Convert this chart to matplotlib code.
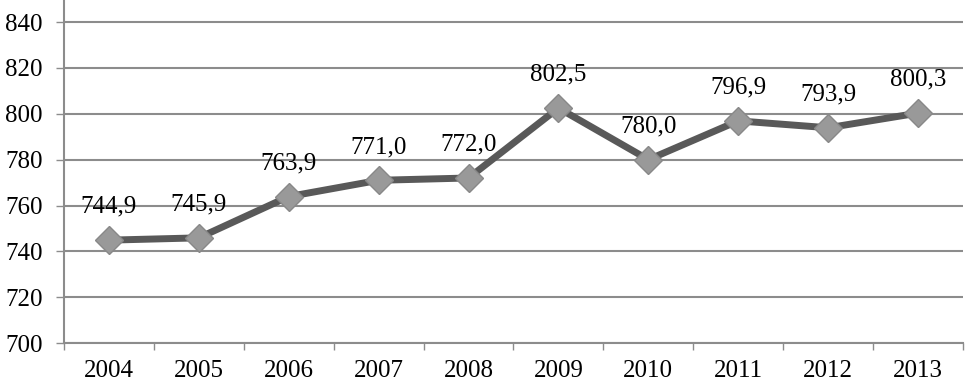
import matplotlib.pyplot as plt

# Dados do gráfico
anos = ['2004', '2005', '2006', '2007', '2008', '2009', '2010', '2011', '2012', '2013']
valores = [744.9, 745.9, 763.9, 771.0, 772.0, 802.5, 780.0, 796.9, 793.9, 800.3]
rotulos = ['744,9', '745,9', '763,9', '771,0', '772,0', '802,5', '780,0', '796,9', '793,9', '800,3']
ticks_y = [700, 720, 740, 760, 780, 800, 820, 840]

plt.rcParams['font.family'] = ['Liberation Serif', 'DejaVu Serif']

fig = plt.figure(figsize=(9.67, 3.80), dpi=100)
ax = fig.add_axes([0.066, 0.097, 0.93, 0.903])

x = list(range(len(anos)))
ax.plot(x, valores, color='#595959', linewidth=5, marker='D', markersize=14,
        markerfacecolor='#999999', markeredgecolor='#888888', markeredgewidth=1, zorder=3)

for xi, v, r in zip(x, valores, rotulos):
    ax.annotate(r, (xi, v), xytext=(0, 16), textcoords='offset points',
                ha='center', va='bottom', fontsize=18, color='black')

ax.set_xlim(-0.5, len(anos) - 0.5)
ax.set_ylim(700, 849.6)
ax.set_yticks(ticks_y)
ax.set_yticklabels([str(t) for t in ticks_y])
ax.yaxis.grid(True, color='#8c8c8c', linewidth=1.5)
ax.set_axisbelow(True)

# rótulos do eixo x centrados, ticks nas divisões
ax.set_xticks([i - 0.5 for i in range(len(anos) + 1)])
ax.set_xticklabels([''] * (len(anos) + 1))
ax.set_xticks(x, minor=True)
ax.set_xticklabels(anos, minor=True)
ax.tick_params(axis='x', which='minor', length=0, labelsize=18, pad=12)
ax.tick_params(axis='x', which='major', length=5, color='#8c8c8c', width=1)
ax.tick_params(axis='y', length=6, color='#8c8c8c', width=1, labelsize=18, pad=9)

for s in ['top', 'right']:
    ax.spines[s].set_visible(False)
ax.spines['left'].set_color('#8c8c8c')
ax.spines['bottom'].set_color('#8c8c8c')
ax.spines['left'].set_linewidth(1.5)
ax.spines['bottom'].set_linewidth(1.5)

fig.savefig('out.png', dpi=100)
